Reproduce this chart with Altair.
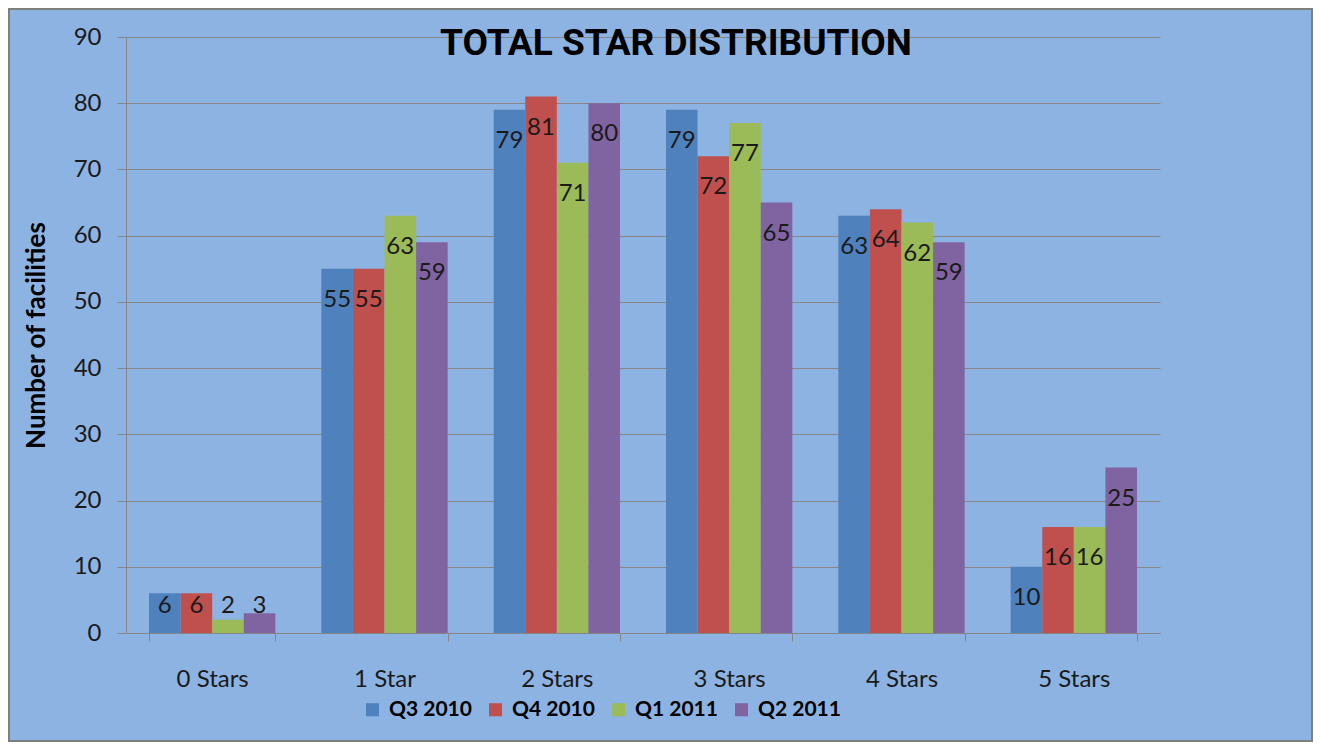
import altair as alt
import pandas as pd

categories = ["0 Stars", "1 Star", "2 Stars", "3 Stars", "4 Stars", "5 Stars"]
quarters = ["Q3 2010", "Q4 2010", "Q1 2011", "Q2 2011"]
q3_2010 = [6, 55, 79, 79, 63, 10]
q4_2010 = [6, 55, 81, 72, 64, 16]
q1_2011 = [2, 63, 71, 77, 62, 16]
q2_2011 = [3, 59, 80, 65, 59, 25]
y_ticks = [0, 10, 20, 30, 40, 50, 60, 70, 80, 90]
colors = ["#4F81BD", "#C0504D", "#9BBB59", "#8064A2"]

rows = []
for q, vals in zip(quarters, [q3_2010, q4_2010, q1_2011, q2_2011]):
    for c, v in zip(categories, vals):
        rows.append({"Stars": c, "Quarter": q, "Count": v})
df = pd.DataFrame(rows)

PW, PH = 1034, 596
BG = "#8DB3E2"
GRID = "#868686"
FONT = "Lato"

x_enc = alt.X(
    "Stars:N", sort=categories, title=None,
    scale=alt.Scale(paddingInner=0.267, paddingOuter=0.1335),
    axis=alt.Axis(labelAngle=0, tickBand="extent", labelFont=FONT, labelFontSize=24,
                  labelColor="#1a1a1a", labelPadding=38, labelBaseline="middle",
                  tickSize=8, tickColor=GRID, domainColor=GRID, grid=False),
)
xo_enc = alt.XOffset("Quarter:N", sort=quarters,
                     scale=alt.Scale(paddingInner=0, paddingOuter=0))

y_axis = alt.Axis(values=y_ticks, title="Number of facilities",
                  titleFont=FONT, titleFontSize=26, titleFontWeight="bold",
                  titleColor="#000000", titlePadding=24,
                  labelFont=FONT, labelFontSize=24, labelColor="#1a1a1a",
                  labelPadding=16, tickSize=9, tickColor=GRID,
                  domainColor=GRID, gridColor=GRID, gridWidth=1)
y_scale = alt.Scale(domain=[0, 90], nice=False)

bars = alt.Chart(df).mark_bar(strokeWidth=0).encode(
    x=x_enc,
    xOffset=xo_enc,
    y=alt.Y("Count:Q", scale=y_scale, axis=y_axis),
    color=alt.Color("Quarter:N", sort=quarters,
                    scale=alt.Scale(domain=quarters, range=colors),
                    legend=alt.Legend(title=None, orient="none", direction="horizontal",
                                      legendX=236, legendY=662, columns=4,
                                      symbolType="square", symbolSize=170,
                                      symbolStrokeWidth=0, labelFont=FONT,
                                      labelFontSize=21, labelFontWeight="bold",
                                      labelColor="#000000", labelOffset=6,
                                      columnPadding=13, padding=0)),
)

labels = alt.Chart(df).transform_calculate(
    ly="max(datum.Count - 4.7, 4.1)"
).mark_text(font=FONT, fontSize=24, color="#1a1a1a", baseline="middle").encode(
    x=x_enc,
    xOffset=xo_enc,
    y=alt.Y("ly:Q", scale=y_scale, axis=y_axis),
    text="Count:Q",
)

border = alt.Chart(pd.DataFrame({"k": [0]})).mark_rect(
    fill=None, stroke="#7f7f7f", strokeWidth=2
).encode(
    x=alt.value(-117), x2=alt.value(PW + 152),
    y=alt.value(-28), y2=alt.value(PH + 108),
)

chart = alt.layer(bars, labels, border).properties(
    width=PW, height=PH,
    autosize=alt.AutoSizeParams(type="none"),
    padding={"left": 118, "top": 29, "right": 153, "bottom": 109},
    title=alt.Title("TOTAL STAR DISTRIBUTION",
                    font="Liberation Sans Narrow, Roboto, sans-serif",
                    fontSize=37, fontWeight="bold", color="#000000",
                    anchor="middle", frame="group", dx=33, offset=-55),
).configure(background=BG).configure_view(stroke=None, fill=BG)

chart.save("out.html", embed_options={"renderer": "svg", "actions": False})
